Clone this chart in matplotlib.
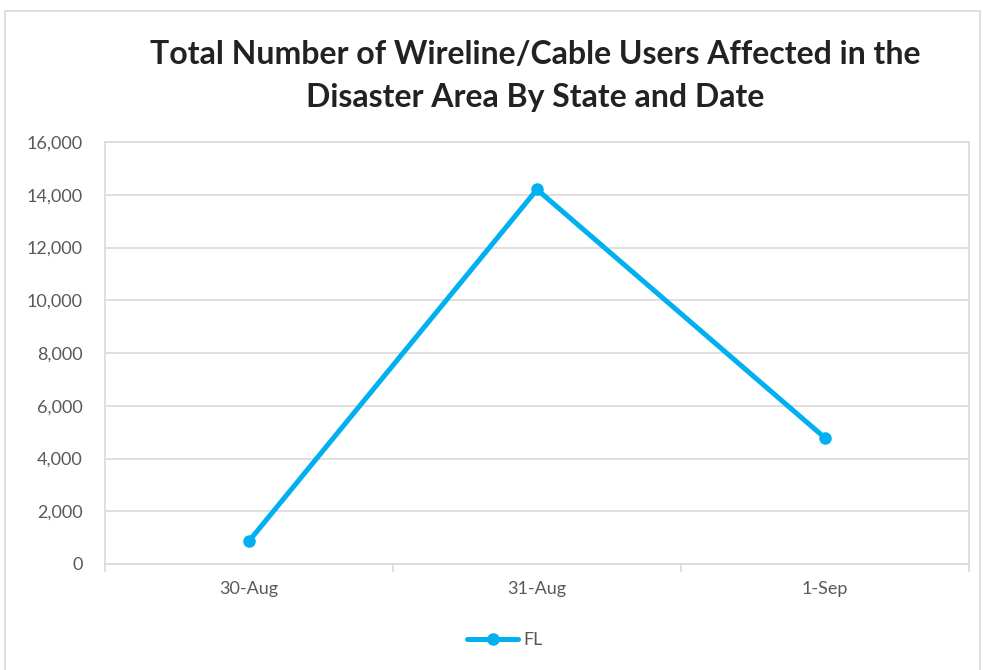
import matplotlib
matplotlib.use("Agg")
import matplotlib.pyplot as plt
from matplotlib.patches import Rectangle
from matplotlib.ticker import FuncFormatter, FixedLocator

plt.rcParams["font.family"] = ["Lato", "DejaVu Sans"]

# data
dates = ["30-Aug", "31-Aug", "1-Sep"]
fl_users = [870, 14200, 4780]
series_name = "FL"

W, H = 983, 670
fig = plt.figure(figsize=(W / 100, H / 100), dpi=100)

# outer chart border
fig.patches.append(Rectangle((5 / W, -0.01), 975 / W, 1 - 11 / H + 0.01,
                             transform=fig.transFigure, fill=False,
                             edgecolor="#d9d9d9", linewidth=1.2))

ax = fig.add_axes([105 / W, 1 - 564 / H, 864 / W, 422 / H])
x = list(range(len(dates)))
ax.plot(x, fl_users, color="#00b0f0", linewidth=3.6, marker="o",
        markersize=8, label=series_name, solid_capstyle="round")

ax.set_xlim(-0.5, len(dates) - 0.5)
ax.set_ylim(0, 16000)
ax.set_yticks(range(0, 16001, 2000))
ax.yaxis.set_major_formatter(FuncFormatter(lambda v, p: f"{int(v):,}"))
ax.set_xticks(x)
ax.set_xticklabels(dates)
ax.xaxis.set_minor_locator(FixedLocator([-0.5, 0.5, 1.5, 2.5]))
ax.grid(axis="y", color="#d9d9d9", linewidth=1.2)
ax.set_axisbelow(True)
for s in ax.spines.values():
    s.set_color("#d9d9d9")
    s.set_linewidth(1.2)
ax.tick_params(axis="y", length=0, pad=16, labelsize=13, labelcolor="#595959")
ax.tick_params(axis="x", which="major", length=0, pad=12, labelsize=13,
               labelcolor="#595959")
ax.tick_params(axis="x", which="minor", length=6, color="#d9d9d9", width=1.2)

fig.text(535 / W, 1 - 55 / H, "Total Number of Wireline/Cable Users Affected in the",
         ha="center", va="center", fontsize=23, fontweight="bold", color="#222222")
fig.text(535 / W, 1 - 98 / H, "Disaster Area By State and Date",
         ha="center", va="center", fontsize=23, fontweight="bold", color="#222222")

fig.legend(loc="center", bbox_to_anchor=(505 / W, 1 - 640 / H), frameon=False,
           fontsize=13, labelcolor="#595959", handlelength=2.8, handletextpad=0.3)

fig.savefig("out.png", dpi=100, facecolor="white")
